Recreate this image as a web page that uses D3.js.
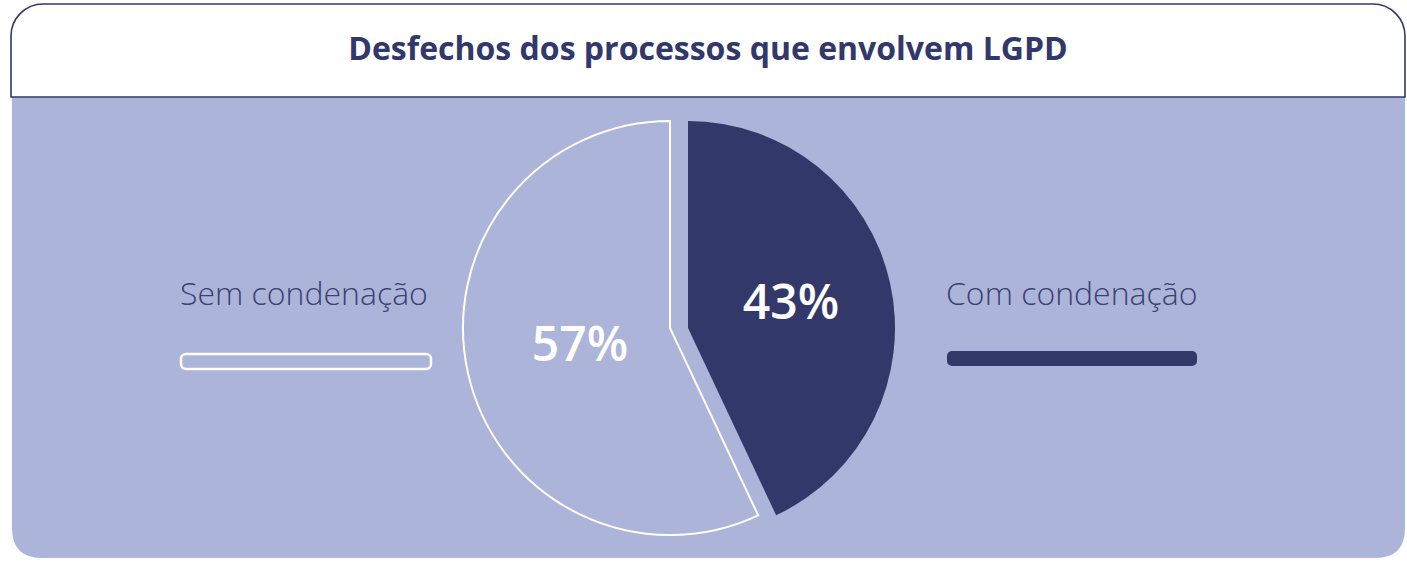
<!DOCTYPE html>
<html>
<head>
<meta charset="utf-8">
<script src="https://cdn.jsdelivr.net/npm/d3@7"></script>
<style>
  body { margin: 0; background: #fff; }
  svg { display: block; }
</style>
</head>
<body>
<div id="chart"></div>
<script>
const title = 'Desfechos dos processos que envolvem LGPD'
const categories = ['Com condenação', 'Sem condenação']
const values = [43, 57]
const colors = ['#323869', '#adb4d9']

const width = 1407
const height = 562
const navy = '#323869'
const lavender = '#adb4d9'

const svg = d3.select('#chart').append('svg')
  .attr('width', width)
  .attr('height', height)

// body (lavender, rounded bottom corners)
const bx0 = 12, bx1 = 1405, by0 = 60, by1 = 558, br = 30
svg.append('path')
  .attr('d', `M${bx0},${by0} H${bx1} V${by1 - br} Q${bx1},${by1} ${bx1 - br},${by1} H${bx0 + br} Q${bx0},${by1} ${bx0},${by1 - br} Z`)
  .attr('fill', lavender)

// header (white, rounded top corners)
const hx0 = 11, hx1 = 1405, hy0 = 4, hy1 = 97, hr = 32
svg.append('path')
  .attr('d', `M${hx0},${hy1} V${hy0 + hr} A${hr},${hr} 0 0 1 ${hx0 + hr},${hy0} H${hx1 - hr} A${hr},${hr} 0 0 1 ${hx1},${hy0 + hr} V${hy1} Z`)
  .attr('fill', '#fff')
  .attr('stroke', navy)
  .attr('stroke-width', 1.6)

svg.append('text')
  .attr('x', 708)
  .attr('y', 60)
  .attr('text-anchor', 'middle')
  .attr('font-family', 'Open Sans, Noto Sans, sans-serif')
  .attr('font-weight', 700)
  .attr('font-size', '32px')
  .attr('fill', navy)
  .text(title)

// pie
const cx = 670, cy = 328, r = 207
const pie = d3.pie().sort(null).value(d => d)
const arcs = pie(values)
const arc = d3.arc().innerRadius(0).outerRadius(r)
const offsets = [[18, 0], [0, 0]]

const slices = svg.append('g')
  .attr('transform', `translate(${cx}, ${cy})`)

arcs.forEach((a, i) => {
  const g = slices.append('g')
    .attr('transform', `translate(${offsets[i][0]}, ${offsets[i][1]})`)
  g.append('path')
    .attr('d', arc(a))
    .attr('fill', colors[i])
    .attr('stroke', i === 1 ? '#fff' : 'none')
    .attr('stroke-width', 2)
  const c = arc.centroid(a)
  g.append('text')
    .attr('x', c[0] + (i === 1 ? 11 : 2))
    .attr('y', c[1] + (i === 1 ? -7 : -4))
    .attr('dy', '0.36em')
    .attr('text-anchor', 'middle')
    .attr('font-family', 'Open Sans, Noto Sans, sans-serif')
    .attr('font-weight', 600)
    .attr('font-size', '48px')
    .attr('fill', '#fff')
    .text(values[i] + '%')
})

// legends
const legends = [
  { x: 946, y: 305, barY: 351, filled: true },
  { x: 180, y: 305, barY: 354, filled: false }
]
categories.forEach((c, i) => {
  const l = legends[i]
  svg.append('text')
    .attr('x', l.x)
    .attr('y', l.y)
    .attr('font-family', 'Open Sans, Noto Sans, sans-serif')
    .attr('font-weight', 300)
    .attr('font-size', '32px')
    .attr('fill', '#3b4173')
    .text(c)
  svg.append('rect')
    .attr('x', l.x + 1)
    .attr('y', l.barY)
    .attr('width', 250)
    .attr('height', 15)
    .attr('rx', 5)
    .attr('fill', l.filled ? colors[i] : 'none')
    .attr('stroke', l.filled ? 'none' : '#fff')
    .attr('stroke-width', 2.5)
})
</script>
</body>
</html>
